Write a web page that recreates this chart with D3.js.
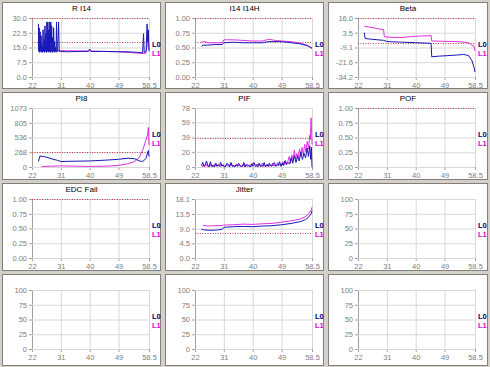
<!DOCTYPE html>
<html>
<head>
<meta charset="utf-8">
<script src="https://cdn.jsdelivr.net/npm/d3@7"></script>
<style>
  body { margin: 0; background: #d4d0c8; }
  svg { display: block; font-family: "Liberation Sans", Arial, sans-serif; }
</style>
</head>
<body>
<div class="chart"></div>
<script>
// x axis shared by all panels
const xTicks = [22, 31, 40, 49, 58.5];

// panel titles (row by row)
const titles = ['R I14', 'I14 I14H', 'Beta', 'PI8', 'PIF', 'POF', 'EDC Fail', 'Jitter', '', '', '', ''];

// y tick labels of each panel
const yTickLabels = [
    ['0.0', '7.5', '15.0', '22.5', '30.0'],
    ['0.00', '0.25', '0.50', '0.75', '1.00'],
    ['-34.2', '-21.6', '-9.1', '3.5', '16.0'],
    ['0', '268', '536', '805', '1073'],
    ['0', '20', '39', '59', '78'],
    ['0.00', '0.25', '0.50', '0.75', '1.00'],
    ['0.00', '0.25', '0.50', '0.75', '1.00'],
    ['0.0', '4.5', '9.0', '13.5', '18.1'],
    ['0', '25', '50', '75', '100'],
    ['0', '25', '50', '75', '100'],
    ['0', '25', '50', '75', '100'],
    ['0', '25', '50', '75', '100']
];

// limit lines (red dotted)
const limits = [[30, 18], [1, 0.6], [16, -5], [268], [39], [1], [1], [7.7], [], [], [], []];

// R I14
const ri14L0 = [[24, 27], [24.1, 13], [24.25, 25], [24.4, 12.5], [24.55, 23], [24.7, 13], [24.85, 21], [25, 12.6],
    [25.15, 16], [25.3, 12.5], [25.45, 24], [25.6, 13], [25.75, 19], [25.9, 12.5], [26.05, 26], [26.2, 13],
    [26.35, 22], [26.5, 12.5], [26.65, 28], [26.8, 13], [26.95, 28], [27.1, 12.6], [27.25, 24], [27.4, 13],
    [27.55, 28], [27.7, 12.5], [27.85, 28], [28, 13], [28.15, 26], [28.3, 12.5], [28.45, 20], [28.6, 13],
    [28.75, 25], [28.9, 12.6], [29.05, 18], [29.2, 12.8], [29.35, 15], [29.5, 12.6], [29.65, 28], [29.8, 13],
    [30, 13], [30.3, 28], [30.5, 13], [31, 13], [33, 12.8], [36, 13], [39.5, 13], [40, 14.2], [40.4, 13],
    [44, 13], [48, 12.9], [52, 12.8], [55, 12.5], [56.5, 12.3], [56.8, 22], [57, 12.5], [57.6, 13],
    [57.9, 27], [58.1, 18], [58.3, 24], [58.5, 13]];
const ri14L1 = [[24, 14.2], [25, 14], [26, 13.8], [26.5, 15], [27, 13.8], [28, 13.7], [29, 13.6], [31, 13.4],
    [35, 13.3], [40, 13.2], [45, 13], [49, 12.8], [53, 12.4], [56, 12], [57.5, 12], [58, 17], [58.2, 20],
    [58.5, 14]];

// I14 I14H
const i14L0 = [[24, 0.52], [24.5, 0.54], [26, 0.54], [28, 0.55], [30.5, 0.55], [31, 0.58], [34, 0.59],
    [37, 0.58], [40, 0.58], [43, 0.58], [45, 0.6], [47, 0.6], [49, 0.6], [52, 0.58], [55, 0.56], [57, 0.53],
    [58.5, 0.49]];
const i14L1 = [[24, 0.59], [25, 0.6], [26, 0.58], [28, 0.58], [30.5, 0.58], [31, 0.63], [34, 0.63],
    [37, 0.62], [40, 0.61], [43, 0.61], [45, 0.64], [47, 0.62], [49, 0.61], [52, 0.6], [55, 0.57],
    [57, 0.54], [58.5, 0.48]];

// Beta
const betaL0 = [[24, 3.5], [24.2, -1.5], [26, -2], [28, -2.5], [30, -3], [31, -4], [35, -4.5], [40, -5],
    [44.8, -5.5], [45, -17], [47, -16.5], [50, -16], [53, -15.5], [55, -15], [56.5, -16], [57.5, -20],
    [58.2, -26], [58.5, -30]];
const betaL1 = [[24, 9], [26, 8], [28, 7], [30, 6], [30.2, 0], [33, -0.5], [36, -0.5], [40, 0.5],
    [44.8, 1], [45, -3.5], [48, -3.8], [52, -4], [55, -4.5], [56.5, -5], [57.5, -7], [58.2, -8],
    [58.5, -12]];

// PI8
const pi8L0 = [[24, 100], [24.5, 200], [25.5, 190], [26.5, 180], [28, 150], [30, 120], [31, 100],
    [35, 105], [40, 110], [45, 125], [49, 140], [52, 160], [54, 150], [55.5, 110], [56.5, 100],
    [57.5, 150], [58.3, 300], [58.5, 190]];
const pi8L1 = [[25, 10], [28, 15], [31, 20], [36, 15], [40, 10], [45, 15], [49, 30], [52, 60],
    [54, 100], [55.5, 180], [56.5, 300], [57.5, 480], [58.1, 600], [58.3, 720], [58.5, 400]];

// PIF
const pifL0 = [[24, 2], [24.4, 6], [24.8, 1], [25.2, 3], [25.6, 8], [26, 2], [26.4, 0], [26.8, 7],
    [27.2, 1], [27.6, 2], [28, 0], [28.4, 5], [28.8, 1], [29.2, 3], [29.6, 2], [30, 6], [30.4, 1],
    [30.8, 3], [31.2, 0], [31.6, 1], [32, 5], [32.4, 3], [32.8, 0], [33.2, 6], [33.6, 1], [34, 2],
    [34.4, 0], [34.8, 3], [35.2, 1], [35.6, 5], [36, 2], [36.4, 1], [36.8, 1], [37.2, 6], [37.6, 0],
    [38, 3], [38.4, 1], [38.8, 2], [39.2, 0], [39.6, 4], [40, 1], [40.4, 6], [40.8, 2], [41.2, 3],
    [41.6, 0], [42, 5], [42.4, 1], [42.8, 2], [43.2, 1], [43.6, 6], [44, 0], [44.4, 3], [44.8, 1],
    [45.2, 5], [45.6, 2], [46, 1], [46.4, 4], [46.8, 6], [47.2, 1], [47.6, 3], [48, 2], [48.4, 7],
    [48.8, 1], [49.2, 5], [49.6, 2], [50, 8], [50.5, 3], [51, 6], [51.5, 4], [52, 12], [52.5, 5],
    [53, 15], [53.5, 6], [54, 14], [54.5, 8], [55, 20], [55.5, 10], [56, 18], [56.5, 12], [57, 25],
    [57.4, 14], [57.8, 28], [58.1, 10], [58.3, 26], [58.5, 0]];
const pifL1 = [[24.2, 0], [24.6, 3], [25, 0], [25.4, 4], [25.8, 1], [26.2, 2], [26.6, 1], [27, 4],
    [27.4, 0], [27.8, 3], [28.2, 1], [28.6, 5], [29, 1], [29.4, 2], [29.8, 0], [30.2, 4], [30.6, 2],
    [31, 1], [31.4, 0], [31.8, 4], [32.2, 1], [32.6, 3], [33, 2], [33.4, 5], [33.8, 0], [34.2, 2],
    [34.6, 1], [35, 4], [35.4, 1], [35.8, 3], [36.2, 0], [36.6, 2], [37, 1], [37.4, 5], [37.8, 0],
    [38.2, 4], [38.6, 2], [39, 3], [39.4, 0], [39.8, 5], [40.2, 1], [40.6, 2], [41, 0], [41.4, 4],
    [41.8, 2], [42.2, 3], [42.6, 0], [43, 5], [43.4, 1], [43.8, 2], [44.2, 1], [44.6, 4], [45, 0],
    [45.4, 3], [45.8, 1], [46.2, 5], [46.6, 1], [47, 3], [47.4, 1], [47.8, 6], [48.2, 2], [48.6, 4],
    [49, 1], [49.4, 7], [49.8, 3], [50.2, 9], [50.6, 4], [51, 8], [51.4, 14], [51.8, 5], [52.2, 16],
    [52.6, 8], [53, 22], [53.4, 10], [53.8, 18], [54.2, 12], [54.6, 24], [55, 14], [55.4, 26],
    [55.8, 16], [56.2, 30], [56.6, 20], [57, 34], [57.4, 24], [57.8, 42], [58, 36], [58.2, 65],
    [58.4, 45], [58.5, 30]];

// Jitter
const jitL0 = [[24, 8.8], [25, 8.6], [27, 8.5], [29, 8.6], [30.5, 8.8], [31, 9.4], [34, 9.6], [37, 9.7],
    [40, 9.6], [43, 9.8], [46, 9.9], [49, 10.2], [52, 10.6], [55, 11.2], [56.5, 11.8], [57.5, 12.6],
    [58.2, 13.5], [58.5, 14.5]];
const jitL1 = [[24.5, 10], [26, 9.8], [28, 9.9], [30.5, 10], [31, 10.1], [34, 10.2], [37, 10.4],
    [40, 10.3], [43, 10.5], [46, 10.6], [49, 11], [52, 11.4], [55, 12], [56.5, 12.7], [57.5, 13.6],
    [58.2, 14.6], [58.5, 15.6]];

const seriesL0 = [ri14L0, i14L0, betaL0, pi8L0, pifL0, [], [], jitL0, [], [], [], []];
const seriesL1 = [ri14L1, i14L1, betaL1, pi8L1, pifL1, [], [], jitL1, [], [], [], []];

const W = 490, H = 367;
const colX = [0, 163, 326];
const colW = [163, 163, 164];
const rowY = [0, 90, 181, 272];
const rowH = [90, 91, 91, 95];
const plot = { left: 32, top: 18, width: 117, height: 59 };

const svg = d3.select('.chart')
    .append('svg')
    .attr('width', W)
    .attr('height', H);

svg.append('rect').attr('width', W).attr('height', H).attr('fill', '#d4d0c8');

const lineGen = d3.line().x(d => d[0]).y(d => d[1]);

titles.forEach((title, i) => {
    const r = Math.floor(i / 3), c = i % 3;
    const cell = svg.append('g').attr('transform', `translate(${colX[c]}, ${rowY[r]})`);

    // panel frame
    cell.append('rect')
        .attr('x', 2.5).attr('y', 2.5)
        .attr('width', colW[c] - 5).attr('height', rowH[r] - 4)
        .attr('fill', '#fff')
        .attr('stroke', '#808080');

    cell.append('text')
        .attr('x', colW[c] / 2).attr('y', 11)
        .attr('text-anchor', 'middle')
        .attr('font-size', 8)
        .attr('fill', '#000')
        .text(title);

    const labels = yTickLabels[i];
    const yMin = +labels[0], yMax = +labels[labels.length - 1];

    const xScale = d3.scaleLinear().domain([22, 58.5]).range([0, plot.width]);
    const yScale = d3.scaleLinear().domain([yMin, yMax]).range([plot.height, 0]);
    const yTicks = labels.map(l => +l);

    const g = cell.append('g').attr('transform', `translate(${plot.left}, ${plot.top})`);

    // grid
    const xAxis = d3.axisBottom(xScale)
        .tickValues(xTicks)
        .tickFormat(d3.format('~g'))
        .tickSize(-plot.height)
        .tickSizeOuter(0);
    const yAxis = d3.axisLeft(yScale)
        .tickValues(yTicks)
        .tickFormat((d, k) => labels[k])
        .tickSize(-plot.width)
        .tickSizeOuter(0);

    const xg = g.append('g').attr('transform', `translate(0, ${plot.height})`).call(xAxis);
    const yg = g.append('g').call(yAxis);

    [xg, yg].forEach(ax => {
        ax.select('.domain').attr('stroke', '#a0a0a0');
        ax.selectAll('.tick line').attr('stroke', '#d8d8d8');
        ax.selectAll('.tick text')
            .attr('fill', '#808080')
            .attr('font-size', 7.5)
            .attr('font-family', '"Liberation Sans", Arial, sans-serif');
    });
    xg.selectAll('.tick text').attr('dy', '0.9em').attr('y', 4);
    yg.selectAll('.tick text').attr('x', -5);

    // small outer tick marks
    xg.selectAll('.tick').append('line')
        .attr('y1', 0).attr('y2', 3).attr('stroke', '#a0a0a0');
    yg.selectAll('.tick').append('line')
        .attr('x1', 0).attr('x2', -3).attr('stroke', '#a0a0a0');

    // limit lines
    g.selectAll('.limit')
        .data(limits[i])
        .enter()
        .append('line')
        .attr('class', 'limit')
        .attr('x1', 0).attr('x2', plot.width)
        .attr('y1', d => Math.round(yScale(d)) + 0.5)
        .attr('y2', d => Math.round(yScale(d)) + 0.5)
        .attr('stroke', '#c04050')
        .attr('stroke-dasharray', '1,1.5');

    // series
    [[seriesL1[i], '#e030e0'], [seriesL0[i], '#1818b8']].forEach(([data, color]) => {
        if (!data.length) return;
        g.append('path')
            .attr('d', lineGen(data.map(p => [xScale(p[0]), yScale(p[1])])))
            .style('fill', 'none')
            .style('stroke', color)
            .style('stroke-width', 1);
    });

    // legend
    g.append('text')
        .attr('x', plot.width + 3).attr('y', 29)
        .attr('font-size', 7.5).attr('font-weight', 'bold')
        .attr('fill', '#000080')
        .text('L0');
    g.append('text')
        .attr('x', plot.width + 3).attr('y', 38)
        .attr('font-size', 7.5).attr('font-weight', 'bold')
        .attr('fill', '#e000e0')
        .text('L1');
});
</script>
</body>
</html>
